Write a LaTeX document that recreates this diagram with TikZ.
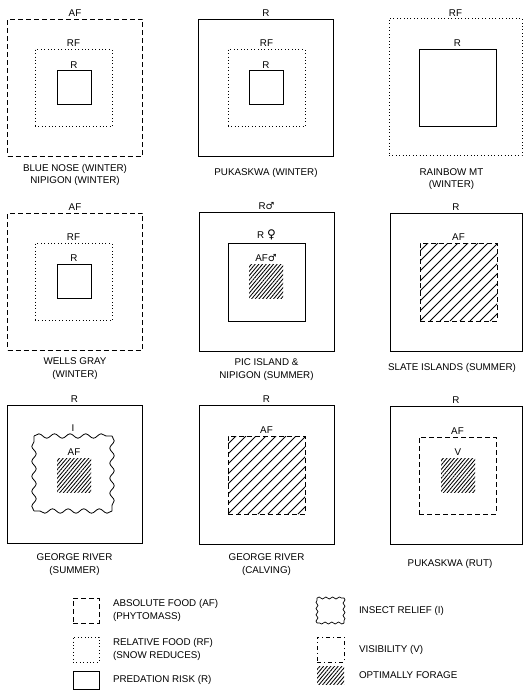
\documentclass[tikz,border=0pt]{standalone}
\usepackage{fontspec}
\setmainfont{Liberation Sans}
\newfontfamily\symbfont{DejaVu Sans}
\usetikzlibrary{positioning,patterns.meta,decorations.pathmorphing}

\tikzset{
  rbox/.style={draw,line width=0.9pt},
  afbox/.style={draw,line width=0.9pt,dash pattern=on 5pt off 3pt},
  rfbox/.style={draw,line width=0.9pt,dash pattern=on 0.8pt off 2.6pt},
  isnake/.style={line width=0.8pt,decorate,decoration={snake,segment length=#1,amplitude=2.2pt}},
  ksnake/.style={line width=0.7pt,decorate,decoration={snake,segment length=#1,amplitude=1pt}},
  vbox/.style={draw,line width=0.8pt,dash pattern=on 4pt off 3pt on 1pt off 3pt},
  bigsq/.style={minimum width=135pt,minimum height=137pt},
  midsq/.style={minimum width=77pt,minimum height=77pt},
  smallsq/.style={minimum width=34pt,minimum height=34pt},
  keysq/.style={minimum width=26pt,minimum height=25pt},
  finehatch/.style={pattern={Lines[angle=50,distance=2.8pt,line width=0.85pt]}},
  widehatch/.style={path picture={
    \foreach \k in {-8,...,8}
      \draw[line width=0.75pt,solid] ([xshift=\k*10pt]path picture bounding box.south west) -- ++(90pt,90pt);}},
  capt/.style={align=center}
}

\begin{document}
\begin{tikzpicture}[x=1pt,y=-1pt,every node/.style={font=\fontsize{9.8}{12.5}\selectfont,inner sep=0pt,outer sep=0pt}]
\useasboundingbox (0,0) rectangle (523,699);

\node[afbox,bigsq] (p1af) at (75,87.5) {};
\node[rfbox,midsq] (p1rf) at (73.5,88) {};
\node[rbox,smallsq] (p1r) at (74,87.5) {};
\node[above=2.5pt of p1af] (p1afl) {AF};
\node[above=3pt of p1rf] (p1rfl) {RF};
\node[above=2.5pt of p1r] (p1rl) {R};
\node[capt,below=8pt of p1af] (p1cap) {BLUE NOSE (WINTER)\\NIPIGON (WINTER)};

\node[rbox,bigsq] (p2r) at (266,87.5) {};
\node[rfbox,midsq] (p2rf) at (266.5,88) {};
\node[rbox,smallsq] (p2ri) at (266,87.5) {};
\node[above=2.5pt of p2r] (p2rl) {R};
\node[above=3pt of p2rf] (p2rfl) {RF};
\node[above=2.5pt of p2ri] (p2ril) {R};
\node[capt,below=12pt of p2r] (p2cap) {PUKASKWA (WINTER)};

\node[rfbox,bigsq,minimum width=133pt] (p3rf) at (455.5,87) {};
\node[rbox,midsq] (p3r) at (457.5,87.5) {};
\node[above=2.5pt of p3rf] (p3rfl) {RF};
\node[above=2.5pt of p3r] (p3rl) {R};
\node[capt,below=13pt of p3rf,xshift=-4pt] (p3cap) {RAINBOW MT\\(WINTER)};

\node[afbox,bigsq] (p4af) at (75,281.5) {};
\node[rfbox,midsq] (p4rf) at (73.5,282) {};
\node[rbox,smallsq] (p4r) at (74,281) {};
\node[above=2.5pt of p4af] (p4afl) {AF};
\node[above=3pt of p4rf] (p4rfl) {RF};
\node[above=2.5pt of p4r] (p4rl) {R};
\node[capt,below=8pt of p4af] (p4cap) {WELLS GRAY\\(WINTER)};

\node[rbox,bigsq,minimum height=139pt] (p5rm) at (266.5,281.5) {};
\node[rbox,midsq,minimum height=78pt] (p5rf) at (266.5,282) {};
\node[finehatch,smallsq] (p5of) at (266,281) {};
\node[above=2.5pt of p5rm] (p5rml) {R{\symbfont ♂}};
\node[above=3pt of p5rf] (p5rfl) {R {\symbfont\fontsize{12}{12}\selectfont ♀}};
\node[above=2.5pt of p5of] (p5ofl) {AF{\symbfont ♂}};
\node[capt,below=8pt of p5rm] (p5cap) {PIC ISLAND \&\\NIPIGON (SUMMER)};

\node[rbox,bigsq,minimum width=132pt,minimum height=138pt] (p6r) at (456,282) {};
\node[afbox,widehatch,midsq,minimum height=78pt] (p6af) at (458.5,282) {};
\node[above=2.5pt of p6r] (p6rl) {R};
\node[above=2.5pt of p6af] (p6afl) {AF};
\node[capt,below=12pt of p6r,xshift=-4pt] (p6cap) {SLATE ISLANDS (SUMMER)};

\node[rbox,bigsq,minimum height=138pt] (p7r) at (74.5,474) {};
\node[minimum width=78pt,minimum height=75pt] (p7i) at (73,473.5) {};
\draw[isnake=15.6pt] (p7i.north west) -- (p7i.north east);
\draw[isnake=15pt] (p7i.north east) -- (p7i.south east);
\draw[isnake=15.6pt] (p7i.south east) -- (p7i.south west);
\draw[isnake=15pt] (p7i.south west) -- (p7i.north west);
\node[finehatch,smallsq] (p7of) at (74,475) {};
\node[above=2.5pt of p7r] (p7rl) {R};
\node[above=4.5pt of p7i] (p7il) {I};
\node[above=3pt of p7of] (p7ofl) {AF};
\node[capt,below=11pt of p7r] (p7cap) {GEORGE RIVER\\(SUMMER)};

\node[rbox,bigsq,minimum height=139pt] (p8r) at (266.5,474.5) {};
\node[afbox,widehatch,midsq,minimum height=78pt] (p8af) at (266.5,475) {};
\node[above=2.5pt of p8r] (p8rl) {R};
\node[above=2.5pt of p8af] (p8afl) {AF};
\node[capt,below=10pt of p8r] (p8cap) {GEORGE RIVER\\(CALVING)};

\node[rbox,bigsq,minimum width=132pt,minimum height=138pt] (p9r) at (456,475) {};
\node[afbox,midsq] (p9af) at (457.5,475.5) {};
\node[finehatch,smallsq] (p9of) at (458,475) {};
\node[above=2.5pt of p9r] (p9rl) {R};
\node[above=2.5pt of p9af] (p9afl) {AF};
\node[above=3pt of p9of] (p9ofl) {V};
\node[capt,below=15pt of p9r,xshift=-6pt] (p9cap) {PUKASKWA (RUT)};

\node[afbox,keysq] (kaf) at (86,610.5) {};
\node[rfbox,keysq] (krf) at (86,649.5) {};
\node[rbox,keysq,minimum height=18pt] (kr) at (86,680) {};
\node[align=left,right=14pt of kaf] (kafl) {ABSOLUTE FOOD (AF)\\(PHYTOMASS)};
\node[align=left,right=14pt of krf] (krfl) {RELATIVE FOOD (RF)\\(SNOW REDUCES)};
\node[right=14pt of kr] (krl) {PREDATION RISK (R)};

\node[keysq,minimum width=27pt] (ki) at (330.5,610.5) {};
\draw[ksnake=6.75pt] (ki.north west) -- (ki.north east);
\draw[ksnake=6.25pt] (ki.north east) -- (ki.south east);
\draw[ksnake=6.75pt] (ki.south east) -- (ki.south west);
\draw[ksnake=6.25pt] (ki.south west) -- (ki.north west);
\node[vbox,keysq,minimum width=27pt] (kv) at (330.5,649.5) {};
\node[finehatch,keysq,minimum width=27pt,minimum height=18pt] (kof) at (330.5,675) {};
\node[right=15pt of ki] (kil) {INSECT RELIEF (I)};
\node[right=15pt of kv] (kvl) {VISIBILITY (V)};
\node[right=15pt of kof] (kofl) {OPTIMALLY FORAGE};
\end{tikzpicture}
\end{document}
